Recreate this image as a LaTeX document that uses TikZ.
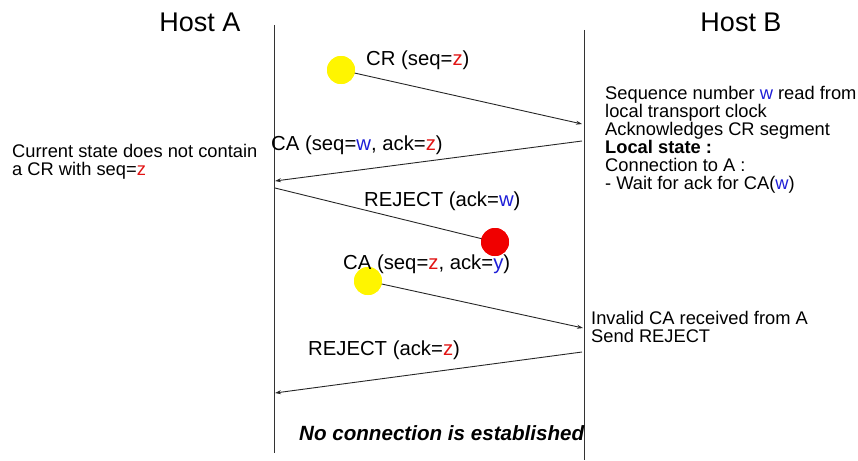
\documentclass[tikz,border=0pt]{standalone}
\usepackage{fontspec}
\setmainfont{Liberation Sans}
\usetikzlibrary{arrows.meta}
\definecolor{zred}{RGB}{225,20,20}
\definecolor{wblue}{RGB}{30,30,215}
\definecolor{dotyellow}{RGB}{255,245,0}
\definecolor{dotred}{RGB}{240,0,0}
\newcommand{\zz}{\textcolor{zred}{z}}
\newcommand{\ww}{\textcolor{wblue}{w}}
\newcommand{\yy}{\textcolor{wblue}{y}}
\tikzset{
  lbl/.style={anchor=base west,inner sep=0pt,font=\fontsize{20.3}{20}\selectfont},
  blocklbl/.style={anchor=north west,inner sep=0pt,align=left,font=\fontsize{18.3}{18}\selectfont},
  host/.style={anchor=base,inner sep=0pt,font=\fontsize{27}{27}\selectfont},
  life/.style={draw=black!80,line width=1pt},
  msg/.style={draw=black!85,line width=0.9pt,-{Stealth[length=6pt,width=4pt]}},
  msgplain/.style={draw=black!85,line width=0.9pt},
  dot/.style={circle,minimum size=28pt,inner sep=0pt,fill=#1,draw=none},
}
\begin{document}
\begin{tikzpicture}[x=1pt,y=-1pt]
\useasboundingbox (0,0) rectangle (858,460);
% lifelines
\coordinate (atop) at (274,25);
\coordinate (abot) at (274,453);
\coordinate (btop) at (584,30);
\coordinate (bbot) at (584,460);
\draw[life] (atop) -- (abot);
\draw[life] (btop) -- (bbot);
% hosts
\node[host] (hA) at (200,32) {Host A};
\node[host] (hB) at (741,32) {Host B};
% message end points
\coordinate (b1) at (582,124);
\coordinate (b2) at (582,141);
\coordinate (a2) at (275,181);
\coordinate (a3) at (275,188);
\coordinate (b4) at (583,328);
\coordinate (b5) at (582,352);
\coordinate (a5) at (275,393);
% dots
\node[dot=dotyellow] (y1) at (341,70) {};
\node[dot=dotred] (r1) at (495,242) {};
\node[dot=dotyellow] (y2) at (368,281) {};
% messages
\draw[msg] (y1.center) -- (b1);
\draw[msg] (b2) -- (a2);
\draw[msgplain] (a3) -- (r1.center);
\draw[msg] (y2.center) -- (b4);
\draw[msg] (b5) -- (a5);
% redraw dots on top
\node[dot=dotyellow] at (y1) {};
\node[dot=dotred] at (r1) {};
\node[dot=dotyellow] at (y2) {};
% labels
\node[lbl] (l1) at (366,65) {CR (seq=\zz)};
\node[lbl] (l2) at (271,150) {CA (seq=\ww, ack=\zz)};
\node[lbl] (l3) at (364,206) {REJECT (ack=\ww)};
\node[lbl] (l4) at (343,269) {CA (seq=\zz, ack=\yy)};
\node[lbl] (l5) at (308,355) {REJECT (ack=\zz)};
\node[blocklbl] (nA) at (12,144) {Current state does not contain\\a CR with seq=\zz};
\node[blocklbl] (nB) at (605,86) {Sequence number \ww\ read from\\local transport clock\\Acknowledges CR segment\\\textbf{Local state :}\\Connection to A :\\- Wait for ack for CA(\ww)};
\node[blocklbl] (nB2) at (591,311) {Invalid CA received from A\\Send REJECT};
\node[anchor=base west,inner sep=0pt,font=\fontsize{20.6}{20}\selectfont\bfseries\itshape] (nc) at (299,440) {No connection is established};
\end{tikzpicture}
\end{document}
